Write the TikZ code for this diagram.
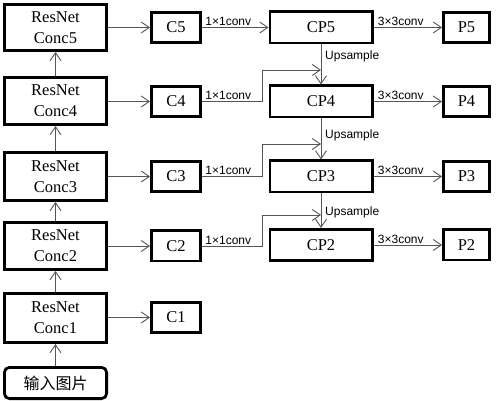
\documentclass[tikz,border=0pt]{standalone}
\usepackage{fontspec}
\setmainfont{Liberation Serif}
\setsansfont{Liberation Sans}
\newfontfamily\cjk{Noto Sans CJK SC}
\usetikzlibrary{arrows.meta}
\definecolor{linegray}{HTML}{555555}
\begin{document}
\begin{tikzpicture}[x=1pt,y=-1pt,
  box/.style={draw, line width=2.8pt, inner sep=0pt, align=center,
    font=\fontsize{16.5}{21}\selectfont},
  rbox/.style={box, minimum width=102.2pt},
  cbox/.style={box, minimum width=49.2pt, minimum height=30.2pt},
  cpbox/.style={box, minimum width=102.2pt, minimum height=31.2pt},
  pbox/.style={box, minimum width=46.2pt, minimum height=30.2pt},
  conn/.style={draw=linegray, line width=0.9pt, -{Straight Barb[length=8pt,width=11pt]}},
  lbl/.style={font=\sffamily\fontsize{12}{14}\selectfont, inner sep=1pt}]
\useasboundingbox (0,0) rectangle (496,401);
% backbone
\node[rbox, minimum height=46.2pt] (R5) at (55.5,27.5) {ResNet\\Conc5};
\node[rbox, minimum height=47.2pt] (R4) at (55.5,101) {ResNet\\Conc4};
\node[rbox, minimum height=48.2pt] (R3) at (55.5,176.5) {ResNet\\Conc3};
\node[rbox, minimum height=47.2pt] (R2) at (55.5,246) {ResNet\\Conc2};
\node[rbox, minimum height=49.2pt] (R1) at (55.5,318) {ResNet\\Conc1};
\node[box, minimum width=102.2pt, minimum height=31.2pt, rounded corners=5pt,
  font=\cjk\fontsize{16}{20}\selectfont] (in) at (55.5,383) {输入图片};
% C boxes
\node[cbox] (C5) at (176,27.5) {C5};
\node[cbox] (C4) at (176,101.5) {C4};
\node[cbox] (C3) at (176,176.5) {C3};
\node[cbox] (C2) at (176,246) {C2};
\node[cbox] (C1) at (176,317.5) {C1};
% CP boxes
\node[cpbox] (CP5) at (321,27.5) {CP5};
\node[cpbox] (CP4) at (321,101.5) {CP4};
\node[cpbox] (CP3) at (321,176.5) {CP3};
\node[cpbox] (CP2) at (321,245) {CP2};
% P boxes
\node[pbox] (P5) at (466.5,27.5) {P5};
\node[pbox] (P4) at (466.5,101.5) {P4};
\node[pbox] (P3) at (466.5,176.5) {P3};
\node[pbox] (P2) at (466.5,245) {P2};
% backbone arrows
\draw[conn] (in.north) -- (R1.south);
\draw[conn] (R1.north) -- (R2.south);
\draw[conn] (R2.north) -- (R3.south);
\draw[conn] (R3.north) -- (R4.south);
\draw[conn] (R4.north) -- (R5.south);
% R -> C
\draw[conn] (R5.east |- C5.west) -- (C5.west);
\draw[conn] (R4.east |- C4.west) -- (C4.west);
\draw[conn] (R3.east |- C3.west) -- (C3.west);
\draw[conn] (R2.east |- C2.west) -- (C2.west);
\draw[conn] (R1.east |- C1.west) -- (C1.west);
% lateral 1x1 conv
\coordinate (f4) at (321,70);
\coordinate (f3) at (321,144);
\coordinate (f2) at (321,215);
\draw[conn] (C5.east) -- (CP5.west)
  node[lbl, pos=0, above right, xshift=2pt] {1×1conv};
\draw[conn] (C4.east) -- ++(60,0) node[lbl, pos=0, above right, xshift=2pt] {1×1conv} |- (f4);
\draw[conn] (C3.east) -- ++(60,0) node[lbl, pos=0, above right, xshift=2pt] {1×1conv} |- (f3);
\draw[conn] (C2.east) -- ++(60,0) node[lbl, pos=0, above right, xshift=2pt] {1×1conv} |- (f2);
% upsample
\draw[conn] (CP5.south) -- (CP4.north);
\draw[conn] (CP4.south) -- (CP3.north);
\draw[conn] (CP3.south) -- (CP2.north);
\node[lbl, anchor=west] (u5) at (324,56) {Upsample};
\node[lbl, anchor=west] (u4) at (324,135) {Upsample};
\node[lbl, anchor=west] (u3) at (324,212) {Upsample};
% 3x3 conv
\draw[conn] (CP5.east) -- (P5.west) node[lbl, pos=0, above right, xshift=3pt] {3×3conv};
\draw[conn] (CP4.east) -- (P4.west) node[lbl, pos=0, above right, xshift=3pt] {3×3conv};
\draw[conn] (CP3.east) -- (P3.west) node[lbl, pos=0, above right, xshift=3pt] {3×3conv};
\draw[conn] (CP2.east) -- (P2.west) node[lbl, pos=0, above right, xshift=3pt] {3×3conv};
\end{tikzpicture}
\end{document}
